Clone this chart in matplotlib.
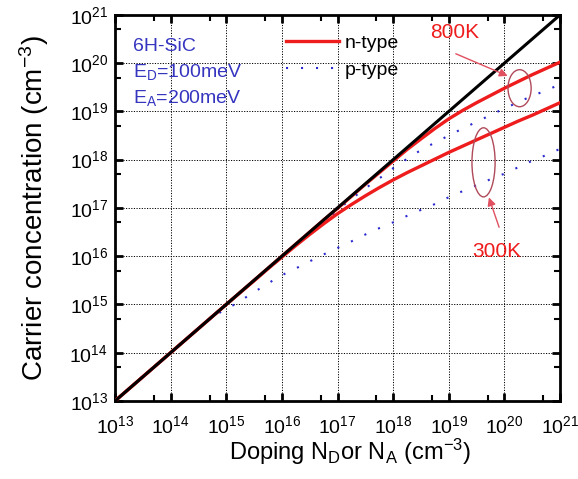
import numpy as np
import matplotlib
matplotlib.use('Agg')
import matplotlib.pyplot as plt
from matplotlib.patches import Ellipse
from matplotlib.ticker import FixedLocator, NullFormatter, LogFormatterSciNotation

plt.rcParams['font.family'] = ['Liberation Sans', 'DejaVu Sans']
plt.rcParams['mathtext.fontset'] = 'custom'
plt.rcParams['mathtext.rm'] = 'Liberation Sans'
plt.rcParams['mathtext.it'] = 'Liberation Sans'

# axis decades
decades = [13, 14, 15, 16, 17, 18, 19, 20, 21]

# full ionization reference (y = x)
ideal_exp = [13, 21]

# n-type, exponents of doping and carrier concentration
n_dop_exp = [13, 14, 15, 15.5, 15.75, 16, 16.25, 16.5, 16.75, 17, 17.25, 17.5, 17.75, 18,
             18.25, 18.5, 18.75, 19, 19.25, 19.5, 19.75, 20, 20.25, 20.5, 20.75, 21]
n_300_exp = [13, 14, 15, 15.49, 15.74, 15.98, 16.22, 16.45, 16.67, 16.88, 17.07, 17.25, 17.42, 17.58,
             17.73, 17.87, 18.01, 18.15, 18.28, 18.41, 18.54, 18.67, 18.80, 18.92, 19.05, 19.18]
n_800_exp = [13, 14, 15, 15.5, 15.75, 16, 16.25, 16.5, 16.75, 16.99, 17.24, 17.49, 17.73, 17.97,
             18.21, 18.43, 18.645, 18.845, 19.02, 19.18, 19.33, 19.48, 19.62, 19.76, 19.89, 20.02]

# p-type
p_dop_exp = [14.65, 14.95, 15.22, 15.43, 15.65, 15.87, 16.09, 16.31, 16.53, 16.74, 16.96, 17.17,
             17.38, 17.59, 17.81, 18.02, 18.24, 18.46, 18.68, 18.90, 19.12, 19.33, 19.55, 19.76,
             19.98, 20.19, 20.40, 20.63, 20.84, 21.0]
p_300_exp = [14.65, 14.88, 15.04, 15.21, 15.36, 15.52, 15.66, 15.78, 15.91, 16.03, 16.15, 16.26,
             16.38, 16.50, 16.61, 16.71, 16.83, 16.94, 17.04, 17.17, 17.28, 17.39, 17.49, 17.60,
             17.70, 17.81, 17.93, 18.03, 18.15, 18.22]
p_800_exp = [14.65, 14.94, 15.21, 15.42, 15.64, 15.86, 16.07, 16.28, 16.49, 16.69, 16.9, 17.12,
             17.30, 17.48, 17.66, 17.84, 18.01, 18.17, 18.31, 18.44, 18.57, 18.69, 18.81, 18.93,
             19.05, 19.16, 19.27, 19.38, 19.48, 19.56]

red = '#ee1c1c'
blue = '#2a2ad0'
txt_blue = '#3535c0'
ell_col = '#b04a5a'

fig = plt.figure(figsize=(5.78, 4.79), dpi=100)
ax = fig.add_axes([0.199, 0.163, 0.77, 0.806])

ax.plot(10.0 ** np.array(n_dop_exp), 10.0 ** np.array(n_300_exp), color=red, lw=2.4, label='n-type', zorder=3)
ax.plot(10.0 ** np.array(n_dop_exp), 10.0 ** np.array(n_800_exp), color=red, lw=2.4, zorder=3)
ax.plot(10.0 ** np.array(p_dop_exp), 10.0 ** np.array(p_300_exp), color=blue, lw=1.5,
        linestyle=(0, (1, 6.2)), label='p-type', zorder=2)
ax.plot(10.0 ** np.array(p_dop_exp), 10.0 ** np.array(p_800_exp), color=blue, lw=1.5,
        linestyle=(0, (1, 6.2)), zorder=2)
ax.plot(10.0 ** np.array(ideal_exp), 10.0 ** np.array(ideal_exp), color='black', lw=2.2, zorder=4)

ax.set_xscale('log')
ax.set_yscale('log')
ax.set_xlim(10.0 ** decades[0], 10.0 ** decades[-1])
ax.set_ylim(10.0 ** decades[0], 10.0 ** decades[-1])
major = 10.0 ** np.array(decades)
minor = 5 * 10.0 ** np.array(decades[:-1])
for axis in (ax.xaxis, ax.yaxis):
    axis.set_major_locator(FixedLocator(major))
    axis.set_major_formatter(LogFormatterSciNotation())
    axis.set_minor_locator(FixedLocator(minor))
    axis.set_minor_formatter(NullFormatter())

ax.grid(True, which='major', color='black', linestyle=(0, (1.2, 1.5)), lw=0.7)
ax.tick_params(which='both', direction='in', top=True, right=True, labelsize=14)
ax.tick_params(axis='y', which='major', length=6, width=2, pad=5)
ax.tick_params(axis='x', which='major', length=6, width=2, pad=10)
ax.tick_params(which='minor', length=4, width=1.5)
for s in ax.spines.values():
    s.set_linewidth(2)

ax.set_xlabel('Doping N$_\\mathrm{D}$or N$_\\mathrm{A}$ (cm$^{-3}$)', fontsize=17, labelpad=0, x=0.528)
ax.set_ylabel('Carrier concentration (cm$^{-3}$)', fontsize=20, labelpad=13)

ax.text(0.04, 0.917, '6H-SiC', transform=ax.transAxes, color=txt_blue, fontsize=14, va='center')
ax.text(0.04, 0.852, 'E$_\\mathrm{D}$=100meV', transform=ax.transAxes, color=txt_blue, fontsize=14, va='center')
ax.text(0.04, 0.785, 'E$_\\mathrm{A}$=200meV', transform=ax.transAxes, color=txt_blue, fontsize=14, va='center')

ax.legend(loc='upper left', bbox_to_anchor=(0.385, 0.95), frameon=False, fontsize=14,
          handlelength=2.7, handletextpad=0.3, labelspacing=0.5, borderpad=0, borderaxespad=0)

# temperature annotations
ax.add_patch(Ellipse((0.909, 0.810), 0.052, 0.096, transform=ax.transAxes, fill=False,
                     edgecolor=ell_col, lw=1, zorder=5))
ax.add_patch(Ellipse((0.828, 0.618), 0.052, 0.179, transform=ax.transAxes, fill=False,
                     edgecolor=ell_col, lw=1, zorder=5))
ax.text(0.764, 0.953, '800K', transform=ax.transAxes, color=red, fontsize=15, ha='center', va='center')
ax.text(0.858, 0.386, '300K', transform=ax.transAxes, color=red, fontsize=15, ha='center', va='center')
ax.annotate('', xy=(0.888, 0.839), xytext=(0.760, 0.902), xycoords='axes fraction',
            arrowprops=dict(arrowstyle='-|>', color='#e05060', lw=1, mutation_scale=12), zorder=6)
ax.annotate('', xy=(0.838, 0.534), xytext=(0.865, 0.443), xycoords='axes fraction',
            arrowprops=dict(arrowstyle='-|>', color='#e05060', lw=1, mutation_scale=12), zorder=6)

fig.savefig('out.png', dpi=100)
